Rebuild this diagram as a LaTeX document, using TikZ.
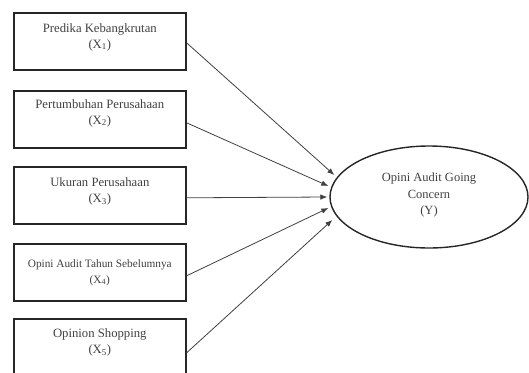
\documentclass[tikz,border=0pt]{standalone}
\usepackage{fontspec}
\setmainfont{Liberation Serif}
\usetikzlibrary{arrows.meta,shapes.geometric}
\begin{document}
\begin{tikzpicture}[x=1pt,y=-1pt,
  box/.style={draw=black!85,line width=1.6pt,minimum width=172pt,minimum height=57pt,anchor=north west,inner sep=0pt},
  lbl/.style={anchor=north,align=center,font=\fontsize{12.7}{16}\selectfont,text=black!75,inner sep=0pt},
  conn/.style={draw=black!75,line width=0.8pt,-{Latex[length=7pt,width=5.5pt]}},
]
\useasboundingbox (0,0) rectangle (529,372);
\clip (0,0) rectangle (529,372);
\node[box] (b1) at (13,12) {};
\node[box] (b2) at (13,90) {};
\node[box] (b3) at (13,166) {};
\node[box] (b4) at (13,243) {};
\node[box] (b5) at (13,318) {};
\node[lbl] (l1) at ([yshift=-11pt]b1.north) {Predika Kebangkrutan\\(X\textsubscript{1})};
\node[lbl] (l2) at ([yshift=-9pt]b2.north) {Pertumbuhan Perusahaan\\(X\textsubscript{2})};
\node[lbl] (l3) at ([yshift=-11.5pt]b3.north) {Ukuran Perusahaan\\(X\textsubscript{3})};
\node[lbl,anchor=center,font=\fontsize{11.3}{16}\selectfont] (l4) at (b4.center) {Opini Audit Tahun Sebelumnya\\(X\textsubscript{4})};
\node[lbl] (l5) at ([yshift=-10.5pt]b5.north) {Opinion Shopping\\(X\textsubscript{5})};
\node[ellipse,draw=black!85,line width=1.4pt,minimum width=198pt,minimum height=102pt,inner sep=0pt,
  align=center,font=\fontsize{12.5}{16.5}\selectfont,text=black!75] (Y) at (429,197) {Opini Audit Going\\Concern\\(Y)\\[-10pt]};
\draw[conn] ([yshift=-1.5pt]b1.east) -- ([xshift=5pt,yshift=22pt]Y.west);
\draw[conn] ([yshift=-3.5pt]b2.east) -- ([xshift=-1pt,yshift=11pt]Y.west);
\draw[conn] ([yshift=-2.5pt]b3.east) -- ([xshift=-2pt]Y.west);
\draw[conn] ([yshift=-3.5pt]b4.east) -- ([xshift=-1pt,yshift=-11pt]Y.west);
\draw[conn] ([yshift=-5.5pt]b5.east) -- ([xshift=3pt,yshift=-23pt]Y.west);
\end{tikzpicture}
\end{document}
